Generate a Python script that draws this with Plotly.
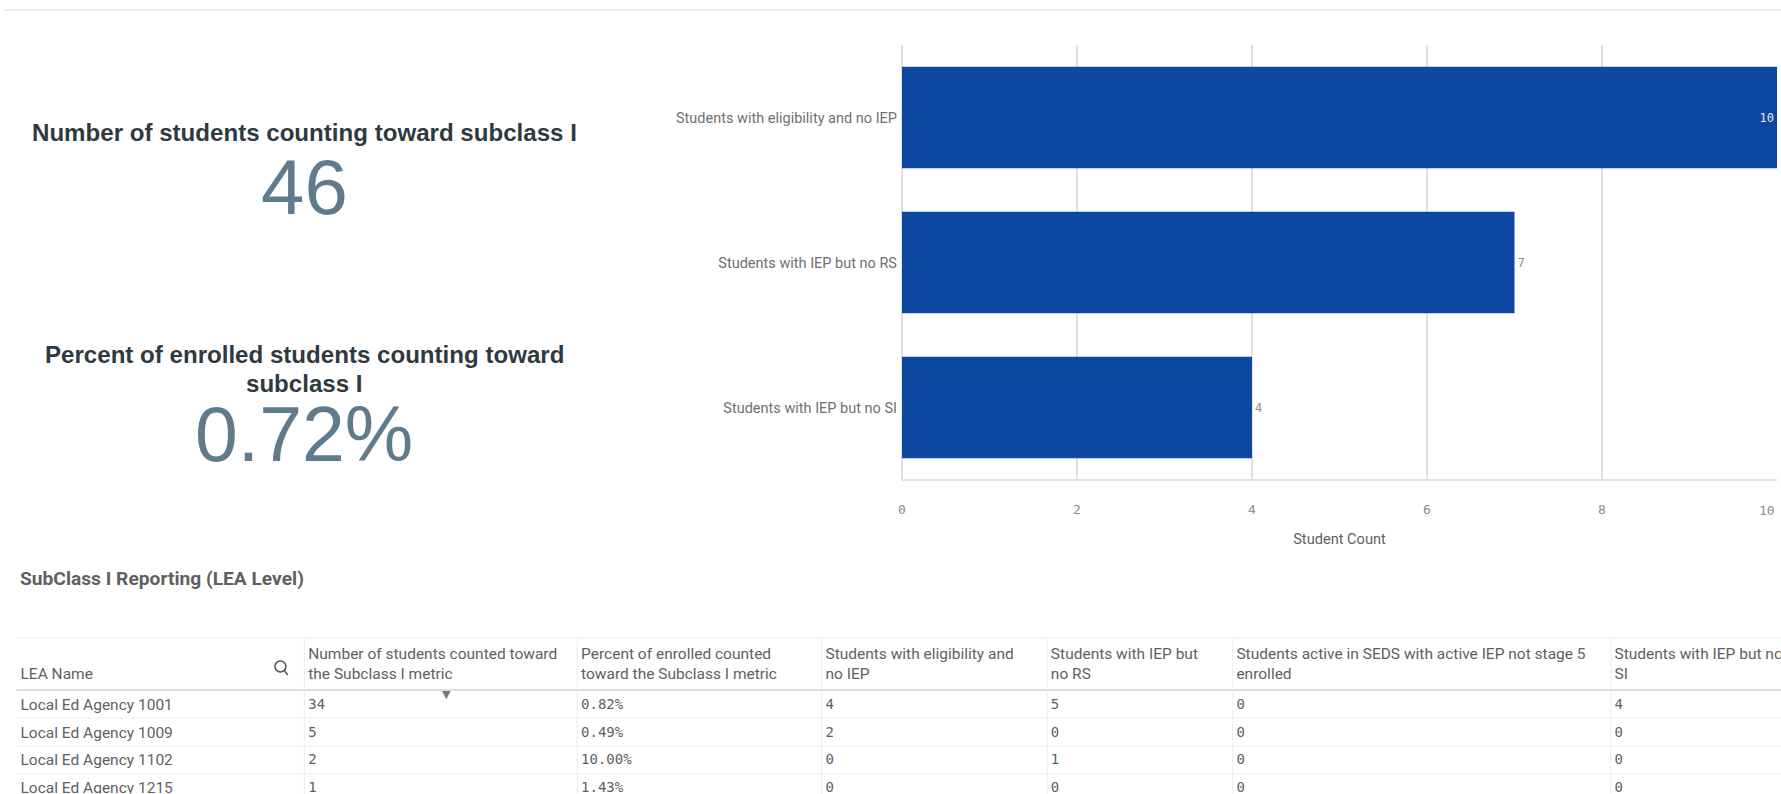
import plotly.graph_objects as go

W, H = 1781, 794

# chart data
categories = ["Students with eligibility and no IEP", "Students with IEP but no RS", "Students with IEP but no SI"]
student_counts = [10, 7, 4]
x_ticks = [0, 2, 4, 6, 8, 10]
x_tick_labels = ["0", "2", "4", "6", "8", ""]
x_end_label = "10"

# KPI data
kpi1_title = "Number of students counting toward subclass I"
kpi1_value = "46"
kpi2_title_line1 = "Percent of enrolled students counting toward"
kpi2_title_line2 = "subclass I"
kpi2_value = "0.72%"

# table data
table_title = "SubClass I Reporting (LEA Level)"
table_headers = [
    "&nbsp;<br>LEA Name",
    "Number of students counted toward<br>the Subclass I metric",
    "Percent of enrolled counted<br>toward the Subclass I metric",
    "Students with eligibility and<br>no IEP",
    "Students with IEP but<br>no RS",
    "Students active in SEDS with active IEP not stage 5<br>enrolled",
    "Students with IEP but no<br>SI",
]
lea_names = ["Local Ed Agency 1001", "Local Ed Agency 1009", "Local Ed Agency 1102", "Local Ed Agency 1215"]
counted = ["34", "5", "2", "1"]
percent = ["0.82%", "0.49%", "10.00%", "1.43%"]
no_iep = ["4", "2", "0", "0"]
no_rs = ["5", "0", "1", "0"]
not_stage5 = ["0", "0", "0", "0"]
no_si = ["4", "0", "0", "0"]

column_edges = [14, 302.5, 576, 821, 1047, 1233, 1612, 1790]
row_edges = [718, 746, 774]

BLUE = "#0d47a1"
GRID = "#e0e0e0"
TXT = "#5f5f5f"
KPI = "#5f7b8c"
SANS = "Roboto"
MONO = "DejaVu Sans Mono"
DX = -1.5
TEXT_SHIFT = 4


def px(x):
    return (x + DX) / W


def py(y):
    return 1 - y / H


fig = go.Figure()

fig.add_trace(go.Bar(
    y=categories, x=student_counts, orientation="h", width=0.7,
    marker=dict(color=BLUE, line=dict(width=0)),
    text=[str(v) for v in student_counts],
    textposition=["inside", "outside", "outside"],
    insidetextanchor="end",
    textangle=0,
    cliponaxis=False,
    insidetextfont=dict(family=MONO, size=12, color="#e6e6e6"),
    outsidetextfont=dict(family=MONO, size=12, color="#8c8c8c"),
    hoverinfo="skip",
))

# the table's own (invisible) cell boundaries sit left of the drawn lines so the
# text keeps the reference's small padding; the last column runs to the page edge
table_left = column_edges[0] - TEXT_SHIFT
widths = [b - a for a, b in zip(column_edges[:-1], column_edges[1:])]
widths[-1] = W - DX - (column_edges[-2] - TEXT_SHIFT)

fig.add_trace(go.Table(
    domain=dict(x=[px(table_left), 1], y=[0, py(636.5)]),
    columnwidth=widths,
    header=dict(
        values=table_headers, align="left", height=50,
        font=dict(family=SANS, size=15.5, color=TXT),
        fill=dict(color="rgba(0,0,0,0)"),
        line=dict(color="rgba(0,0,0,0)", width=0),
    ),
    cells=dict(
        values=[lea_names, counted, percent, no_iep, no_rs, not_stage5, no_si],
        align="left", height=27.5,
        font=dict(family=[SANS, MONO, MONO, MONO, MONO, MONO, MONO], size=[15.5, 14, 14, 14, 14, 14, 14], color=TXT),
        fill=dict(color="rgba(0,0,0,0)"),
        line=dict(color="rgba(0,0,0,0)", width=0),
    ),
))

KPI_X = 302.3
layout_annotations = [
    dict(x=px(KPI_X), y=py(132), text=f"<b>{kpi1_title}</b>", font=dict(family="Liberation Sans", size=24.1, color="#2e3a40")),
    dict(x=px(KPI_X), y=py(187), text=kpi1_value, font=dict(family="Liberation Sans", size=78, color=KPI)),
    dict(x=px(KPI_X), y=py(354), text=f"<b>{kpi2_title_line1}</b>", font=dict(family="Liberation Sans", size=24.1, color="#2e3a40")),
    dict(x=px(KPI_X), y=py(383), text=f"<b>{kpi2_title_line2}</b>", font=dict(family="Liberation Sans", size=24.1, color="#2e3a40")),
    dict(x=px(KPI_X), y=py(434), text=kpi2_value, font=dict(family="Liberation Sans", size=77, color=KPI)),
    dict(x=px(15.3), y=py(578.5), xanchor="left", text=f"<b>{table_title}</b>", font=dict(family=SANS, size=19.2, color=TXT)),
    dict(x=px(445), y=py(694), text="▼", font=dict(family="DejaVu Sans", size=11, color="#777777")),
]
for a in layout_annotations:
    a.update(xref="paper", yref="paper", showarrow=False)
    a.setdefault("xanchor", "center")
    a.setdefault("yanchor", "middle")
layout_annotations.append(dict(
    x=x_ticks[-1], y=py(510), xref="x", yref="paper", text=x_end_label, showarrow=False,
    xanchor="right", yanchor="middle", font=dict(family=MONO, size=13, color="#8c8c8c"),
))

LINE = "#ececec"
shapes = [
    dict(type="line", x0=0, x1=1, y0=py(10), y1=py(10), line=dict(color="#dedede", width=1)),
    dict(type="line", x0=px(14), x1=1, y0=py(638), y1=py(638), line=dict(color=LINE, width=1)),
    dict(type="line", x0=px(14), x1=1, y0=py(690), y1=py(690), line=dict(color="#dcdcdc", width=2)),
    dict(type="circle", x0=px(273), x1=px(284), y0=py(661), y1=py(672), line=dict(color="#555555", width=1.5)),
    dict(type="line", x0=px(282), x1=px(286), y0=py(670), y1=py(675), line=dict(color="#555555", width=1.5)),
]
for edge in column_edges[1:-1]:
    shapes.append(dict(type="line", x0=px(edge), x1=px(edge), y0=py(638), y1=0, line=dict(color=LINE, width=1)))
for edge in row_edges:
    shapes.append(dict(type="line", x0=px(14), x1=1, y0=py(edge), y1=py(edge), line=dict(color=LINE, width=1)))
for s in shapes:
    s.update(xref="paper", yref="paper")

fig.update_layout(
    width=W, height=H, margin=dict(l=0, r=0, t=0, b=0),
    paper_bgcolor="white", plot_bgcolor="white", showlegend=False,
    annotations=layout_annotations, shapes=shapes,
    xaxis=dict(
        domain=[px(901.5), px(1778.5)], range=[0, 10], tickvals=x_ticks, ticktext=x_tick_labels,
        showgrid=True, gridcolor=GRID, gridwidth=2, zeroline=True, zerolinecolor=GRID, zerolinewidth=2,
        showline=False, anchor="y",
        tickfont=dict(family=MONO, size=13, color="#8c8c8c"), ticks="", ticklabelstandoff=20,
        title=dict(text="Student Count", font=dict(family=SANS, size=14.6, color=TXT), standoff=17),
    ),
    yaxis=dict(
        domain=[py(480), py(45)], range=[2.5, -0.5], type="category",
        categoryorder="array", categoryarray=categories,
        showgrid=False, showline=False, side="left", anchor="x",
        tickfont=dict(family=SANS, size=14.5, color="#707070"), ticks="", ticklabelstandoff=4,
    ),
)
fig.add_shape(type="line", xref="x domain", yref="y domain", x0=0, x1=1, y0=0, y1=0, line=dict(color=GRID, width=2), layer="below")

fig.write_html("out.html", config=dict(displayModeBar=False),
               post_script="document.body.style.margin='0';document.body.style.overflow='hidden';")
